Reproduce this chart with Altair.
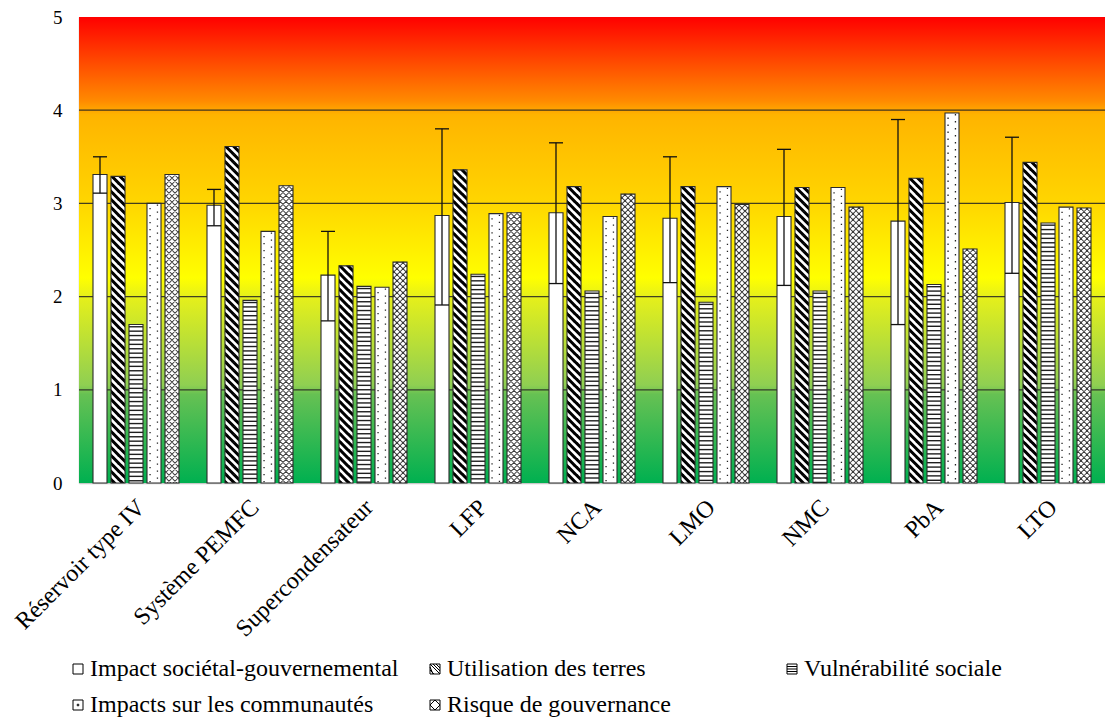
import altair as alt
import pandas as pd

# ---------------- data ----------------
categories = ["Réservoir type IV", "Système PEMFC", "Supercondensateur", "LFP",
              "NCA", "LMO", "NMC", "PbA", "LTO"]
series_names = ["Impact sociétal-gouvernemental", "Utilisation des terres",
                "Vulnérabilité sociale", "Impacts sur les communautés",
                "Risque de gouvernance"]
impact_sg = [3.31, 2.98, 2.23, 2.87, 2.90, 2.84, 2.86, 2.81, 3.01]
impact_sg_hi = [3.50, 3.15, 2.70, 3.80, 3.65, 3.50, 3.58, 3.90, 3.71]
impact_sg_lo = [3.11, 2.76, 1.74, 1.91, 2.14, 2.15, 2.12, 1.70, 2.25]
utilisation_terres = [3.29, 3.61, 2.33, 3.36, 3.18, 3.18, 3.17, 3.27, 3.44]
vulnerabilite = [1.70, 1.96, 2.11, 2.24, 2.06, 1.94, 2.06, 2.13, 2.79]
communautes = [3.00, 2.70, 2.10, 2.89, 2.86, 3.18, 3.17, 3.97, 2.96]
gouvernance = [3.31, 3.19, 2.37, 2.90, 3.10, 2.99, 2.96, 2.51, 2.95]
y_ticks = [0, 1, 2, 3, 4, 5]

series_values = [impact_sg, utilisation_terres, vulnerabilite, communautes, gouvernance]
rows = []
for s, vals in zip(series_names, series_values):
    for c, v in zip(categories, vals):
        rows.append({"cat": c, "series": s, "v": v})
df = pd.DataFrame(rows)
df_err = pd.DataFrame({"cat": categories, "series": series_names[0],
                       "v": impact_sg, "lo": impact_sg_lo, "hi": impact_sg_hi})

# ---------------- layout / style ----------------
W, H = 1026, 466
PXU = H / 5.0
BAR = 14.0
HALF = BAR / 2
SERIF = "Liberation Serif"


def clip_poly(poly, x0, x1, y0, y1):
    def clip(pts, inside, inter):
        out = []
        for i in range(len(pts)):
            cur, prev = pts[i], pts[i - 1]
            if inside(cur):
                if not inside(prev):
                    out.append(inter(prev, cur))
                out.append(cur)
            elif inside(prev):
                out.append(inter(prev, cur))
        return out

    def ix(xc):
        return lambda p, q: (xc, p[1] + (q[1] - p[1]) * (xc - p[0]) / (q[0] - p[0]))

    def iy(yc):
        return lambda p, q: (p[0] + (q[0] - p[0]) * (yc - p[1]) / (q[1] - p[1]), yc)

    pts = poly
    for inside, inter in [(lambda p: p[0] >= x0, ix(x0)), (lambda p: p[0] <= x1, ix(x1)),
                          (lambda p: p[1] >= y0, iy(y0)), (lambda p: p[1] <= y1, iy(y1))]:
        if not pts:
            break
        pts = clip(pts, inside, inter)
    return pts


def poly_path(polys):
    out = []
    for p in polys:
        if len(p) < 3:
            continue
        a = sum(p[i - 1][0] * p[i][1] - p[i][0] * p[i - 1][1] for i in range(len(p)))
        if abs(a) < 1e-6:
            continue
        if a < 0:
            p = p[::-1]
        out.append("M" + "L".join(f"{x / HALF:.4f},{y / HALF:.4f}" for x, y in p) + "Z")
    return "".join(out)


def diag_tile(tile_h, period, thick, slopes, ov=0.3):
    y0, y1 = -tile_h / 2 - ov, tile_h / 2 + ov
    polys = []
    for sg in slopes:
        for k in range(-12, 13):
            c = k * period
            band = [(-30, -30 * sg + c), (30, 30 * sg + c),
                    (30, 30 * sg + c + thick), (-30, -30 * sg + c + thick)]
            cp = clip_poly(band, -HALF, HALF, y0, y1)
            if cp:
                polys.append(cp)
    return poly_path(polys)


def rect(x, y, w, h):
    return [(x, y), (x + w, y), (x + w, y + h), (x, y + h)]


TILE_DIAG = 8.0
path_diag = diag_tile(TILE_DIAG, 8.0, 4.2, [1])
TILE_HORIZ = 4.4
path_horiz = poly_path([rect(-HALF, -0.7, BAR, 1.4)])
TILE_DOTS = 7.0
path_dots = poly_path([rect(2.8, -2.4, 1.3, 1.3), rect(-4.6, 1.1, 1.3, 1.3)])
TILE_CROSS = 6.0
path_cross = diag_tile(TILE_CROSS, 6.0, 1.3, [1, -1])

sq = "M-1,-1H1V1H-1Z"
legend_paths = [
    sq,
    sq + "M-1,-1L1,1M-1,-0.4L-0.4,1M-0.4,-1L1,0.4M-1,0.2L-0.2,1M0.2,-1L1,-0.2",
    sq + "M-1,-0.5H1M-1,0H1M-1,0.5H1",
    sq + "M-0.15,-0.15H0.15V0.15H-0.15Z",
    sq + "M0,-1L1,0L0,1L-1,0Z",
]

YS = alt.Scale(domain=[0, 5], nice=False, zero=True)
y_axis = alt.Axis(values=y_ticks, title=None, grid=False, ticks=False, domain=True,
                  domainColor="#c8c8c8", domainWidth=1.5, labelFont=SERIF,
                  labelFontSize=19, labelColor="black", labelPadding=17,
                  labelFlush=False)
X = alt.X("cat:N", sort=categories, scale=alt.Scale(paddingInner=0, paddingOuter=0),
          axis=alt.Axis(title=None, labelAngle=315, labelAlign="right",
                        labelBaseline="top", labelFont=SERIF, labelFontSize=24,
                        labelColor="black", labelPadding=12, labelOffset=-3,
                        ticks=False, domainColor="#c8c8c8", domainWidth=1.5,
                        labelLimit=400))
XO = alt.XOffset("series:N", sort=series_names,
                 scale=alt.Scale(domain=series_names, paddingInner=4 / 18,
                                 paddingOuter=0.7778))


def Yq(field):
    return alt.Y(field, scale=YS, axis=y_axis)


gradient = alt.Gradient(
    gradient="linear", x1=0, y1=0, x2=0, y2=1,
    stops=[
        alt.GradientStop(color="#ff0000", offset=0.0),
        alt.GradientStop(color="#ff8a00", offset=0.18),
        alt.GradientStop(color="#ffb400", offset=0.21),
        alt.GradientStop(color="#ffd600", offset=0.40),
        alt.GradientStop(color="#ffff00", offset=0.56),
        alt.GradientStop(color="#e6f01a", offset=0.60),
        alt.GradientStop(color="#8fcf52", offset=0.79),
        alt.GradientStop(color="#66c153", offset=0.81),
        alt.GradientStop(color="#00b050", offset=1.0),
    ],
)

background = alt.Chart(pd.DataFrame({"y0": [y_ticks[0]], "y1": [y_ticks[-1]]})).mark_rect(
    fill=gradient).encode(y=Yq("y0:Q"), y2="y1:Q")

grid = alt.Chart(pd.DataFrame({"g": y_ticks[1:-1]})).mark_rule(
    color="#222222", strokeWidth=1.3, opacity=0.85).encode(y=Yq("g:Q"))

legend_dummy = alt.Chart(pd.DataFrame({"cat": categories[0], "series": series_names,
                                       "v": 0.5})).mark_point(
    filled=False, stroke="black", size=100, strokeWidth=1, opacity=1).encode(
    x=X, xOffset=XO, y=Yq("v:Q"),
    shape=alt.Shape("series:N", sort=series_names,
                    scale=alt.Scale(domain=series_names, range=legend_paths),
                    legend=alt.Legend(title=None, orient="none", legendX=-13, legendY=640,
                                      direction="horizontal",
                                      columns=3, gridAlign="all", columnPadding=24,
                                      rowPadding=12, symbolSize=100, symbolStrokeWidth=1,
                                      symbolOpacity=1, symbolStrokeColor="black",
                                      symbolFillColor="white", labelFont=SERIF,
                                      labelFontSize=24, labelColor="black", labelOffset=0,
                                      labelLimit=500, padding=0)))

bars = alt.Chart(df).mark_bar(fill="white", strokeWidth=0).encode(
    x=X, xOffset=XO, y=Yq("v:Q"))


def pattern_layer(series, path, tile_px, color):
    step = tile_px / PXU
    return alt.Chart(df).transform_filter(alt.datum.series == series).transform_calculate(
        ks=f"sequence(0, datum.v, {step:.6f})").transform_flatten(["ks"]).transform_calculate(
        yc=f"datum.v - datum.ks - {step / 2:.6f}").mark_point(
        shape=path, size=BAR * BAR, filled=True, fill=color, strokeWidth=0,
        opacity=1, clip=True).encode(x=X, xOffset=XO, y=Yq("yc:Q"))


pat_diag = pattern_layer(series_names[1], path_diag, TILE_DIAG, "#000000")
pat_horiz = pattern_layer(series_names[2], path_horiz, TILE_HORIZ, "#1e1e1e")
pat_dots = pattern_layer(series_names[3], path_dots, TILE_DOTS, "#222222")
pat_cross = pattern_layer(series_names[4], path_cross, TILE_CROSS, "#3a3a3a")

outlines = alt.Chart(df).mark_bar(fill="white", fillOpacity=0, stroke="#2b2b2b",
                                  strokeWidth=1.1).encode(
    x=X, xOffset=XO, y=Yq("v:Q"))

err_rule = alt.Chart(df_err).mark_rule(color="#111111", strokeWidth=1.3).encode(
    x=X, xOffset=XO, y=Yq("lo:Q"), y2="hi:Q")
cap_hi = alt.Chart(df_err).mark_tick(color="#111111", thickness=1.3, size=BAR,
                                     opacity=1).encode(
    x=X, xOffset=XO, y=Yq("hi:Q"))
cap_lo = alt.Chart(df_err).mark_tick(color="#111111", thickness=1.3, size=BAR,
                                     opacity=1).encode(
    x=X, xOffset=XO, y=Yq("lo:Q"))

chart = alt.layer(
    background, grid, legend_dummy, bars, pat_diag, pat_horiz, pat_dots, pat_cross,
    outlines, err_rule, cap_hi, cap_lo
).properties(
    width=W, height=H, autosize=alt.AutoSizeParams(type="none"),
    padding={"left": 71, "top": 9, "right": 0, "bottom": 240},
).configure_view(stroke=None).configure(background="white")

chart.save("out.html", embed_options={"renderer": "svg", "actions": False})
